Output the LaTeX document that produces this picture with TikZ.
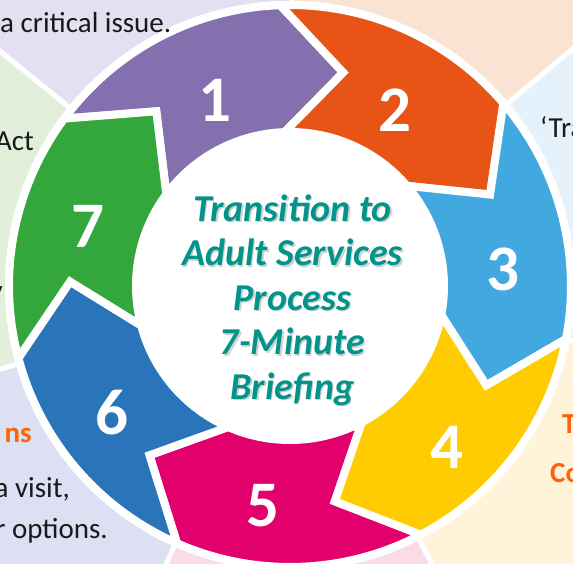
\documentclass[tikz,border=0pt]{standalone}
\usepackage{fontspec}
\setmainfont{Carlito}
\usepackage{tikz}

\definecolor{bglav}{RGB}{229,224,241}
\definecolor{bgpeach}{RGB}{251,227,212}
\definecolor{bgsky}{RGB}{229,241,251}
\definecolor{bgcream}{RGB}{255,243,218}
\definecolor{bgrose}{RGB}{250,219,232}
\definecolor{bgperi}{RGB}{220,224,242}
\definecolor{bgmint}{RGB}{226,239,218}
\definecolor{cpurple}{RGB}{132,112,174}
\definecolor{corange}{RGB}{231,84,22}
\definecolor{csky}{RGB}{65,169,223}
\definecolor{cyellow}{RGB}{254,204,0}
\definecolor{cmagenta}{RGB}{226,0,109}
\definecolor{cblue}{RGB}{42,116,186}
\definecolor{cgreen}{RGB}{51,166,60}
\definecolor{teal}{RGB}{0,148,138}
\definecolor{hiorange}{RGB}{250,100,10}

\begin{document}
\begin{tikzpicture}[x=1pt, y=-1pt,
  seg/.style={draw=white, line width=8pt, line join=miter},
  num/.style={text=white, font=\fontsize{65}{65}\selectfont\bfseries},
  side/.style={text=black!90, font=\fontsize{29}{32}\selectfont, inner sep=0pt},
  sidehead/.style={text=hiorange, font=\fontsize{29}{32}\selectfont\bfseries, inner sep=0pt}]

\useasboundingbox (0,0) rectangle (573,563);
\clip (0,0) rectangle (573,563);

\begin{scope}[shift={(290,286)}]
\fill[bglav] (0,0) -- (-141:700) -- (-115:700) -- (-89.6:700) -- cycle;
\fill[bgpeach] (0,0) -- (-89.6:700) -- (-65:700) -- (-40:700) -- cycle;
\fill[bgsky] (0,0) -- (-40:700) -- (-15:700) -- (11:700) -- cycle;
\fill[bgcream] (0,0) -- (11:700) -- (37:700) -- (63:700) -- cycle;
\fill[bgrose] (0,0) -- (63:700) -- (88:700) -- (114:700) -- cycle;
\fill[bgperi] (0,0) -- (114:700) -- (139:700) -- (164:700) -- cycle;
\fill[bgmint] (0,0) -- (164:700) -- (191:700) -- (219:700) -- cycle;
\draw[white, line width=5pt] (0,0) -- (-141:700) (0,0) -- (-89.6:700) (0,0) -- (-40:700)
  (0,0) -- (11:700) (0,0) -- (63:700) (0,0) -- (114:700) (0,0) -- (164:700);

\fill[white] (0,0) circle[radius=285];

\path[seg, fill=cpurple] (-143.43:281) arc[start angle=-143.43, end angle=-92, radius=281]
  -- (-76:220) -- (-92:154) arc[start angle=-92, end angle=-143.43, radius=154] -- (-127.43:220) -- cycle;
\path[seg, fill=corange] (-92:281) arc[start angle=-92, end angle=-40.57, radius=281]
  -- (-24.57:220) -- (-40.57:154) arc[start angle=-40.57, end angle=-92, radius=154] -- (-76:220) -- cycle;
\path[seg, fill=csky] (-40.57:281) arc[start angle=-40.57, end angle=10.86, radius=281]
  -- (26.86:220) -- (10.86:154) arc[start angle=10.86, end angle=-40.57, radius=154] -- (-24.57:220) -- cycle;
\path[seg, fill=cyellow] (10.86:281) arc[start angle=10.86, end angle=62.29, radius=281]
  -- (78.29:220) -- (62.29:154) arc[start angle=62.29, end angle=10.86, radius=154] -- (26.86:220) -- cycle;
\path[seg, fill=cmagenta] (62.29:281) arc[start angle=62.29, end angle=113.71, radius=281]
  -- (129.71:220) -- (113.71:154) arc[start angle=113.71, end angle=62.29, radius=154] -- (78.29:220) -- cycle;
\path[seg, fill=cblue] (113.71:281) arc[start angle=113.71, end angle=165.14, radius=281]
  -- (181.14:220) -- (165.14:154) arc[start angle=165.14, end angle=113.71, radius=154] -- (129.71:220) -- cycle;
\path[seg, fill=cgreen] (165.14:281) arc[start angle=165.14, end angle=216.57, radius=281]
  -- (232.57:220) -- (216.57:154) arc[start angle=216.57, end angle=165.14, radius=154] -- (181.14:220) -- cycle;
\end{scope}

\node (n1) [num] at (215,100) {1};
\node (n2) [num] at (395,110) {2};
\node (n3) [num] at (503,269) {3};
\node (n4) [num] at (447,447) {4};
\node (n5) [num] at (263,506) {5};
\node (n6) [num] at (112,413) {6};
\node (n7) [num] at (88,226) {7};

\node (shadow) [align=center, text=black!18, font=\fontsize{38}{44.5}\selectfont\bfseries\itshape] at (294,301.5)
  {Transition to\\Adult Services\\Process\\7-Minute\\Briefing};
\node (title) [align=center, text=teal, font=\fontsize{38}{44.5}\selectfont\bfseries\itshape, xshift=-1.5pt, yshift=1.5pt] at (shadow.center)
  {Transition to\\Adult Services\\Process\\7-Minute\\Briefing};

\node (issue) [side, anchor=base west] at (0,32) {a critical issue.};
\node (act) [side, anchor=base east] at (34,150) {Act};
\node (tra) [side, anchor=base west] at (540,137) {‘Tra};
\node (cut) [side, anchor=base east] at (3,300) {y};
\node (ns) [sidehead, anchor=base east] at (32,442) {ns};
\node (visit) [side, anchor=base east] at (70,497) {a visit,};
\node (options) [side, anchor=base east] at (108,538) {r options.};
\node (t) [sidehead, anchor=base west] at (562,433) {T};
\node (co) [sidehead, anchor=base west] at (550,482) {Co};

\end{tikzpicture}
\end{document}
